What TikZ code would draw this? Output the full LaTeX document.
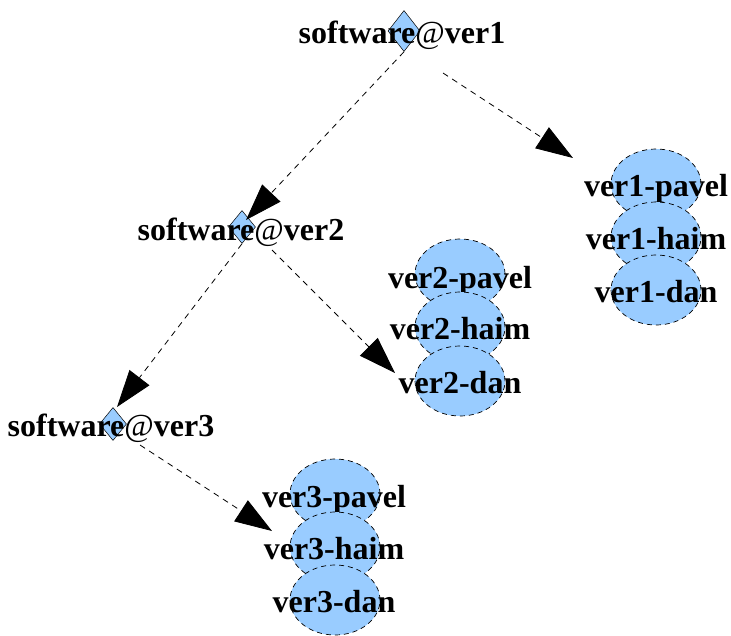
\documentclass[tikz,border=0pt]{standalone}
\usepackage{fontspec}
\setmainfont{Liberation Serif}
\usetikzlibrary{shapes.geometric,arrows.meta}
\definecolor{nodeblue}{RGB}{153,204,255}
\begin{document}
\begin{tikzpicture}[x=1pt,y=-1pt,
  member/.style={ellipse, draw, dash pattern=on 5pt off 4pt, line width=0.7pt,
    fill=nodeblue, minimum width=90pt, minimum height=70pt, inner sep=0pt},
  release/.style={diamond, draw, line width=0.5pt, fill=nodeblue, inner sep=0pt,
    minimum width=27pt, minimum height=33pt},
  lbl/.style={font=\bfseries\fontsize{32}{32}\selectfont, anchor=base, inner sep=0pt},
  link/.style={draw, dash pattern=on 6pt off 5pt, line width=0.8pt,
    -{Triangle[length=37pt,width=25pt]}}
]
\useasboundingbox (0,0) rectangle (731,635);

% release diamonds
\node[release, minimum width=32pt, minimum height=41pt] (d1) at (404,31) {};
\node[release] (d2) at (242,227) {};
\node[release] (d3) at (113,424) {};

% members of ver1
\node[member] (v1p) at (656,184) {};
\node[lbl] (t1p) at (656,196) {ver1-pavel};
\node[member] (v1h) at (656,237) {};
\node[lbl] (t1h) at (656,249) {ver1-haim};
\node[member] (v1d) at (656,290) {};
\node[lbl] (t1d) at (656,302) {ver1-dan};

% members of ver2
\node[member] (v2p) at (460,274) {};
\node[lbl] (t2p) at (460,288) {ver2-pavel};
\node[member] (v2h) at (460,327) {};
\node[lbl] (t2h) at (460,339) {ver2-haim};
\node[member] (v2d) at (460,381) {};
\node[lbl] (t2d) at (460,393) {ver2-dan};

% members of ver3
\node[member] (v3p) at (335,494) {};
\node[lbl] (t3p) at (334,507) {ver3-pavel};
\node[member] (v3h) at (335,547) {};
\node[lbl] (t3h) at (334,559) {ver3-haim};
\node[member] (v3d) at (335,600) {};
\node[lbl] (t3d) at (334,612) {ver3-dan};

% release labels
\node[lbl] (l1) at (402,43) {software{\mdseries @}ver1};
\node[lbl] (l2) at (241,240) {software{\mdseries @}ver2};
\node[lbl] (l3) at (111,436) {software{\mdseries @}ver3};

% edges
\draw[link] (d1.south) -- ([shift={(4,-7)}]d2.center);
\draw[link] ([shift={(39,42)}]d1.center) -- ([shift={(-83,-26)}]v1p.center);
\draw[link] (d2.south) -- ([shift={(4,-17)}]d3.center);
\draw[link] ([shift={(30,23)}]d2.center) -- ([shift={(-65,-8)}]v2d.center);
\draw[link] ([shift={(27,21)}]d3.center) -- ([shift={(-63,-16)}]v3h.center);
\end{tikzpicture}
\end{document}
